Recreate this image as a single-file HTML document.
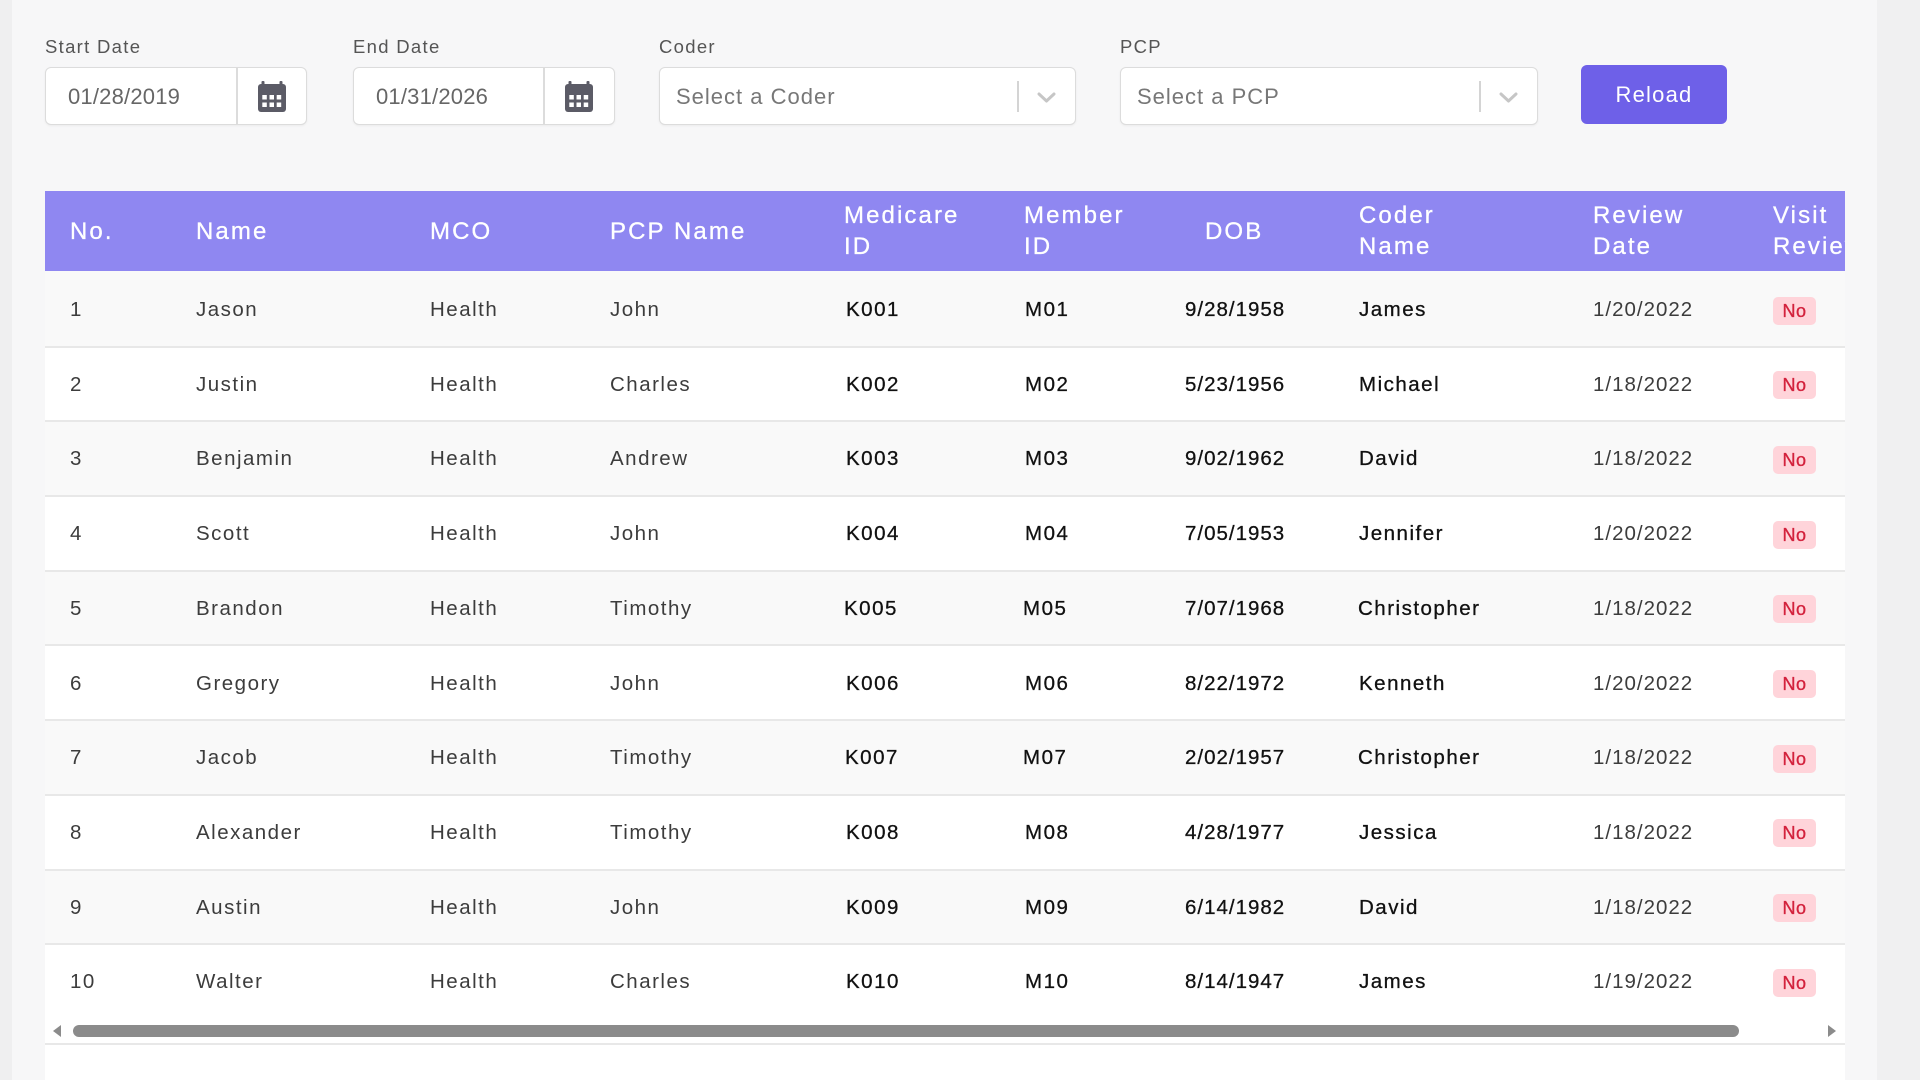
<!DOCTYPE html>
<html>
<head>
<meta charset="utf-8">
<style>
*{margin:0;padding:0;box-sizing:border-box;}
html,body{width:1920px;height:1080px;overflow:hidden;}
body{background:#f7f7f8;font-family:"Liberation Sans",Arial,sans-serif;position:relative;}
.lstrip{position:absolute;left:0;top:0;width:12px;height:1080px;background:#efeff0;}
.rstrip{position:absolute;left:1877px;top:0;width:43px;height:1080px;background:#f0f0f1;}
.lbl{position:absolute;top:35px;font-size:18.5px;letter-spacing:1.3px;color:#555;line-height:24px;}
.box{position:absolute;top:67px;height:58px;background:#fff;border:1.5px solid #dcdcdc;border-radius:6px;box-shadow:0 1px 2px rgba(0,0,0,0.05);}
.box .txt{position:absolute;left:22px;top:1px;line-height:55px;font-size:22px;color:#666;letter-spacing:0.2px;}
.box .dv{position:absolute;top:0;bottom:0;width:1.5px;background:#dcdcdc;}
.box .sdv{position:absolute;top:13px;height:31px;width:1.5px;background:#d4d4d4;}
.cal{position:absolute;top:13px;}
.chev{position:absolute;top:24px;}
.btn{position:absolute;left:1581px;top:65px;width:146px;height:59px;background:#6e60e8;border-radius:6px;color:#fff;font-size:22px;letter-spacing:1.2px;line-height:59px;text-align:center;}
.tbl{position:absolute;left:45px;top:191px;width:1800px;height:889px;background:#fff;overflow:hidden;}
.hdr{position:absolute;left:0;top:0;width:1800px;height:80px;background:#8f87f1;}
.h{position:absolute;color:#fff;font-size:24px;letter-spacing:2.1px;line-height:31px;white-space:nowrap;-webkit-text-stroke:0.3px #fff;}
.h1{top:25px;}
.h2{top:9px;}
.row{position:absolute;left:0;width:1800px;height:74.7px;border-bottom:2px solid #e8e8e8;}
.row.o{background:#f9f9f9;}
.row.e{background:#fff;}
.row.first{top:80px !important;height:76.7px;}
.row.first .c,.row.first .badge{margin-top:2px;}
.row.last{border-bottom:none;}
.c{position:absolute;top:0;line-height:74px;font-size:20.5px;letter-spacing:1.5px;color:#3c3c3c;white-space:nowrap;}
.c.n{letter-spacing:1.0px;}
.c.d{color:#111;-webkit-text-stroke:0.3px #111;}
.badge{position:absolute;left:1728px;top:23.5px;width:43px;height:28px;background:#ffd4da;border-radius:5px;color:#d3223d;font-size:18px;line-height:28px;text-align:center;letter-spacing:0.5px;-webkit-text-stroke:0.35px #d3223d;}
.sb{position:absolute;left:28px;top:834px;width:1666px;height:12px;background:#8b8b8b;border-radius:6px;}
.sbl{position:absolute;top:1043px;left:45px;width:1800px;height:2px;background:#e8e8e8;}
</style>
</head>
<body>
<div class="lstrip"></div>
<div class="rstrip"></div>

<div class="lbl" style="left:45px;">Start Date</div>
<div class="lbl" style="left:353px;">End Date</div>
<div class="lbl" style="left:659px;">Coder</div>
<div class="lbl" style="left:1120px;">PCP</div>

<div class="box" style="left:45px;width:262px;">
  <div class="txt">01/28/2019</div>
  <div class="dv" style="left:190px;"></div>
  <svg class="cal" style="left:212px;" width="28" height="31" viewBox="0 0 28 31">
    <rect x="0" y="3" width="28" height="28" rx="3" fill="#5b5b66"/>
    <rect x="3.5" y="0" width="3" height="7" rx="1" fill="#5b5b66"/>
    <rect x="21.5" y="0" width="3" height="7" rx="1" fill="#5b5b66"/>
    <rect x="4.3" y="14" width="4.5" height="4.5" fill="#fff"/>
    <rect x="11.5" y="14" width="4.5" height="4.5" fill="#fff"/>
    <rect x="18.7" y="14" width="4.5" height="4.5" fill="#fff"/>
    <rect x="4.3" y="21.5" width="4.5" height="4.5" fill="#fff"/>
    <rect x="11.5" y="21.5" width="4.5" height="4.5" fill="#fff"/>
    <rect x="18.7" y="21.5" width="4.5" height="4.5" fill="#fff"/>
  </svg>
</div>

<div class="box" style="left:353px;width:262px;">
  <div class="txt">01/31/2026</div>
  <div class="dv" style="left:189px;"></div>
  <svg class="cal" style="left:211px;" width="28" height="31" viewBox="0 0 28 31">
    <rect x="0" y="3" width="28" height="28" rx="3" fill="#5b5b66"/>
    <rect x="3.5" y="0" width="3" height="7" rx="1" fill="#5b5b66"/>
    <rect x="21.5" y="0" width="3" height="7" rx="1" fill="#5b5b66"/>
    <rect x="4.3" y="14" width="4.5" height="4.5" fill="#fff"/>
    <rect x="11.5" y="14" width="4.5" height="4.5" fill="#fff"/>
    <rect x="18.7" y="14" width="4.5" height="4.5" fill="#fff"/>
    <rect x="4.3" y="21.5" width="4.5" height="4.5" fill="#fff"/>
    <rect x="11.5" y="21.5" width="4.5" height="4.5" fill="#fff"/>
    <rect x="18.7" y="21.5" width="4.5" height="4.5" fill="#fff"/>
  </svg>
</div>

<div class="box" style="left:659px;width:417px;">
  <div class="txt" style="left:16px;color:#777;letter-spacing:1px;">Select a Coder</div>
  <div class="sdv" style="left:357px;"></div>
  <svg class="chev" style="left:377px;" width="19" height="11" viewBox="0 0 19 11">
    <polyline points="2,2 9.5,9 17,2" fill="none" stroke="#c6c6c6" stroke-width="3" stroke-linecap="round" stroke-linejoin="round"/>
  </svg>
</div>

<div class="box" style="left:1120px;width:418px;">
  <div class="txt" style="left:16px;color:#777;letter-spacing:1px;">Select a PCP</div>
  <div class="sdv" style="left:358px;"></div>
  <svg class="chev" style="left:378px;" width="19" height="11" viewBox="0 0 19 11">
    <polyline points="2,2 9.5,9 17,2" fill="none" stroke="#c6c6c6" stroke-width="3" stroke-linecap="round" stroke-linejoin="round"/>
  </svg>
</div>

<div class="btn">Reload</div>

<div class="tbl">
  <div class="hdr">
    <div class="h h1" style="left:25px;">No.</div>
    <div class="h h1" style="left:151px;">Name</div>
    <div class="h h1" style="left:385px;">MCO</div>
    <div class="h h1" style="left:565px;">PCP Name</div>
    <div class="h h2" style="left:799px;">Medicare<br>ID</div>
    <div class="h h2" style="left:979px;">Member<br>ID</div>
    <div class="h h1" style="left:1160px;">DOB</div>
    <div class="h h2" style="left:1314px;">Coder<br>Name</div>
    <div class="h h2" style="left:1548px;">Review<br>Date</div>
    <div class="h h2" style="left:1728px;">Visit<br>Review</div>
  </div>

  <div class="row o first" style="top:80px;">
    <div class="c" style="left:25px;">1</div><div class="c" style="left:151px;">Jason</div><div class="c" style="left:385px;">Health</div><div class="c" style="left:565px;">John</div><div class="c d" style="left:801px;">K001</div><div class="c d" style="left:980px;">M01</div><div class="c d n" style="left:1140px;">9/28/1958</div><div class="c d" style="left:1314px;">James</div><div class="c n" style="left:1548px;">1/20/2022</div><div class="badge">No</div>
  </div>
  <div class="row e" style="top:156.7px;">
    <div class="c" style="left:25px;">2</div><div class="c" style="left:151px;">Justin</div><div class="c" style="left:385px;">Health</div><div class="c" style="left:565px;">Charles</div><div class="c d" style="left:801px;">K002</div><div class="c d" style="left:980px;">M02</div><div class="c d n" style="left:1140px;">5/23/1956</div><div class="c d" style="left:1314px;">Michael</div><div class="c n" style="left:1548px;">1/18/2022</div><div class="badge">No</div>
  </div>
  <div class="row o" style="top:231.4px;">
    <div class="c" style="left:25px;">3</div><div class="c" style="left:151px;">Benjamin</div><div class="c" style="left:385px;">Health</div><div class="c" style="left:565px;">Andrew</div><div class="c d" style="left:801px;">K003</div><div class="c d" style="left:980px;">M03</div><div class="c d n" style="left:1140px;">9/02/1962</div><div class="c d" style="left:1314px;">David</div><div class="c n" style="left:1548px;">1/18/2022</div><div class="badge">No</div>
  </div>
  <div class="row e" style="top:306.1px;">
    <div class="c" style="left:25px;">4</div><div class="c" style="left:151px;">Scott</div><div class="c" style="left:385px;">Health</div><div class="c" style="left:565px;">John</div><div class="c d" style="left:801px;">K004</div><div class="c d" style="left:980px;">M04</div><div class="c d n" style="left:1140px;">7/05/1953</div><div class="c d" style="left:1314px;">Jennifer</div><div class="c n" style="left:1548px;">1/20/2022</div><div class="badge">No</div>
  </div>
  <div class="row o" style="top:380.8px;">
    <div class="c" style="left:25px;">5</div><div class="c" style="left:151px;">Brandon</div><div class="c" style="left:385px;">Health</div><div class="c" style="left:565px;">Timothy</div><div class="c d" style="left:799px;">K005</div><div class="c d" style="left:978px;">M05</div><div class="c d n" style="left:1140px;">7/07/1968</div><div class="c d" style="left:1313px;">Christopher</div><div class="c n" style="left:1548px;">1/18/2022</div><div class="badge">No</div>
  </div>
  <div class="row e" style="top:455.5px;">
    <div class="c" style="left:25px;">6</div><div class="c" style="left:151px;">Gregory</div><div class="c" style="left:385px;">Health</div><div class="c" style="left:565px;">John</div><div class="c d" style="left:801px;">K006</div><div class="c d" style="left:980px;">M06</div><div class="c d n" style="left:1140px;">8/22/1972</div><div class="c d" style="left:1314px;">Kenneth</div><div class="c n" style="left:1548px;">1/20/2022</div><div class="badge">No</div>
  </div>
  <div class="row o" style="top:530.2px;">
    <div class="c" style="left:25px;">7</div><div class="c" style="left:151px;">Jacob</div><div class="c" style="left:385px;">Health</div><div class="c" style="left:565px;">Timothy</div><div class="c d" style="left:800px;">K007</div><div class="c d" style="left:978px;">M07</div><div class="c d n" style="left:1140px;">2/02/1957</div><div class="c d" style="left:1313px;">Christopher</div><div class="c n" style="left:1548px;">1/18/2022</div><div class="badge">No</div>
  </div>
  <div class="row e" style="top:604.9px;">
    <div class="c" style="left:25px;">8</div><div class="c" style="left:151px;">Alexander</div><div class="c" style="left:385px;">Health</div><div class="c" style="left:565px;">Timothy</div><div class="c d" style="left:801px;">K008</div><div class="c d" style="left:980px;">M08</div><div class="c d n" style="left:1140px;">4/28/1977</div><div class="c d" style="left:1314px;">Jessica</div><div class="c n" style="left:1548px;">1/18/2022</div><div class="badge">No</div>
  </div>
  <div class="row o" style="top:679.6px;">
    <div class="c" style="left:25px;">9</div><div class="c" style="left:151px;">Austin</div><div class="c" style="left:385px;">Health</div><div class="c" style="left:565px;">John</div><div class="c d" style="left:801px;">K009</div><div class="c d" style="left:980px;">M09</div><div class="c d n" style="left:1140px;">6/14/1982</div><div class="c d" style="left:1314px;">David</div><div class="c n" style="left:1548px;">1/18/2022</div><div class="badge">No</div>
  </div>
  <div class="row e last" style="top:754.3px;">
    <div class="c" style="left:25px;">10</div><div class="c" style="left:151px;">Walter</div><div class="c" style="left:385px;">Health</div><div class="c" style="left:565px;">Charles</div><div class="c d" style="left:801px;">K010</div><div class="c d" style="left:980px;">M10</div><div class="c d n" style="left:1140px;">8/14/1947</div><div class="c d" style="left:1314px;">James</div><div class="c n" style="left:1548px;">1/19/2022</div><div class="badge">No</div>
  </div>

  <svg style="position:absolute;left:7px;top:834px;" width="10" height="12" viewBox="0 0 10 12"><polygon points="9,0 9,12 1,6" fill="#8b8b8b"/></svg>
  <div class="sb"></div>
  <svg style="position:absolute;left:1782px;top:834px;" width="10" height="12" viewBox="0 0 10 12"><polygon points="1,0 1,12 9,6" fill="#8b8b8b"/></svg>
</div>
<div class="sbl"></div>
</body>
</html>
